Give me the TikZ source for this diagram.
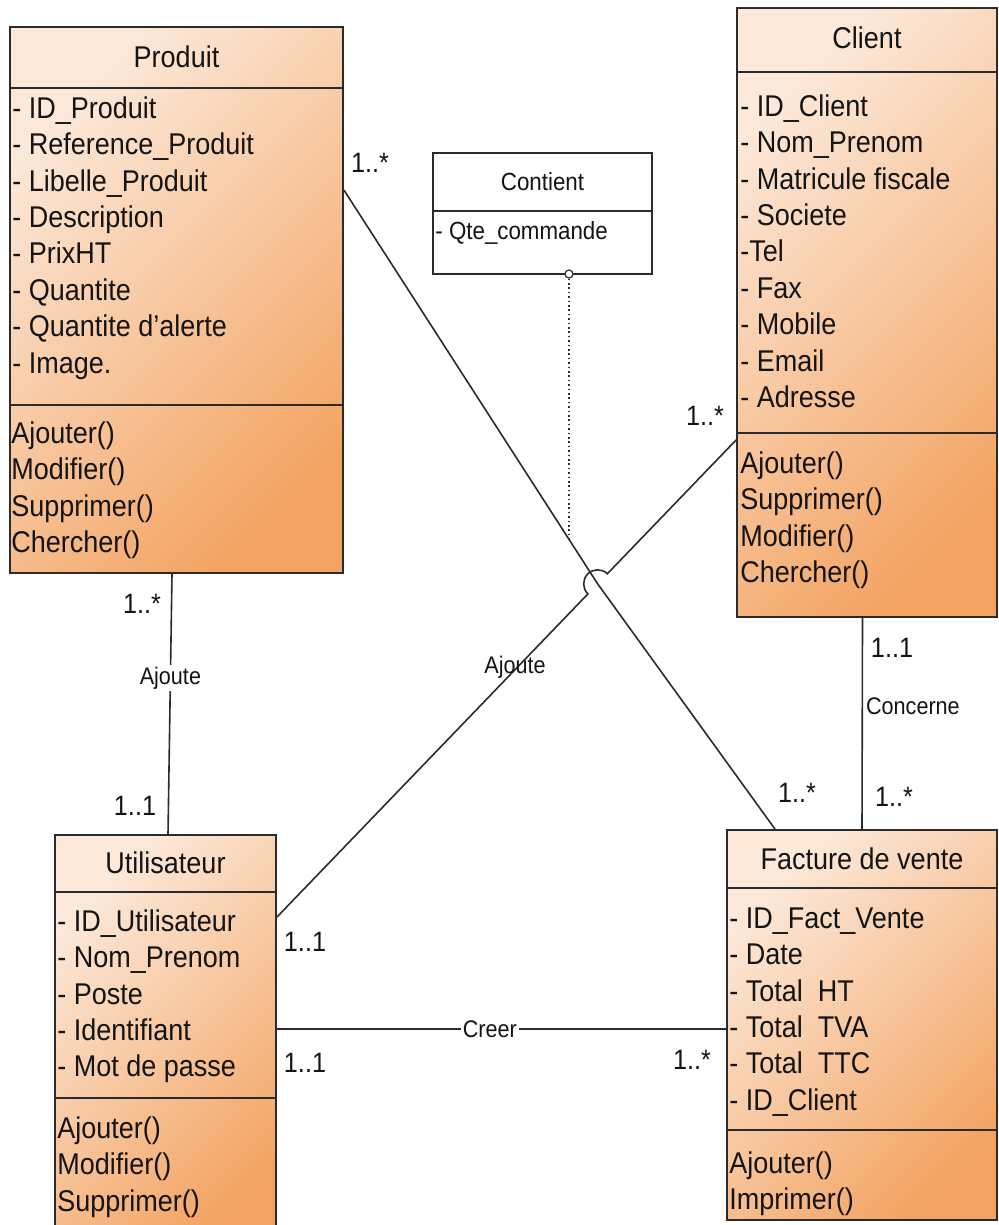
\documentclass[tikz,border=0pt]{standalone}
\usepackage{fontspec}
\setmainfont{Liberation Sans}[FakeStretch=0.9]
\usetikzlibrary{fit,calc}
\definecolor{classlight}{HTML}{FCE9DA}
\definecolor{classdark}{HTML}{F3A463}
\definecolor{linegray}{HTML}{2B2B2B}
\tikzset{
  classbox/.style={draw=linegray, line width=0.9pt, inner sep=0pt, top color=classlight, bottom color=classdark, shading angle=45},
  compline/.style={draw=linegray, line width=0.9pt},
  classtitle/.style={inner sep=0pt, font=\fontsize{15}{18}\selectfont, text=black!92},
  members/.style={anchor=north west, inner sep=0pt, align=left, font=\fontsize{15}{18.2}\selectfont, text=black!92},
  mult/.style={inner sep=0pt, font=\fontsize{14}{16}\selectfont, text=black!92},
  rolename/.style={inner sep=1pt, font=\fontsize{12}{14}\selectfont, text=black!92},
  assoc/.style={draw=linegray, line width=0.8pt},
}
\begin{document}
\begin{tikzpicture}[x=0.5pt, y=-0.5pt]
  \clip (0,0) rectangle (999,1225);

  % Classes
  \node[classbox, fit={(10,27) (343,573)}] (produit) {};
  \draw[compline] (produit.west |- 0,88) -- (produit.east |- 0,88);
  \draw[compline] (produit.west |- 0,405) -- (produit.east |- 0,405);
  \node[classtitle] (produitName) at (produit.north |- 0,57) {Produit};
  \node[members] (produitAttr) at (12,92.5) {\strut - ID\_Produit\\- Reference\_Produit\\- Libelle\_Produit\\- Description\\- PrixHT\\- Quantite\\- Quantite d'alerte\\- Image.};
  \node[members] (produitOps) at (11,417.5) {\strut Ajouter()\\Modifier()\\Supprimer()\\Chercher()};

  \node[classbox, fit={(737,8) (997,617)}] (client) {};
  \draw[compline] (client.west |- 0,72) -- (client.east |- 0,72);
  \draw[compline] (client.west |- 0,433) -- (client.east |- 0,433);
  \node[classtitle] (clientName) at (client.north |- 0,38) {Client};
  \node[members] (clientAttr) at (740,90.5) {\strut - ID\_Client\\- Nom\_Prenom\\- Matricule fiscale\\- Societe\\-Tel\\- Fax\\- Mobile\\- Email\\- Adresse};
  \node[members] (clientOps) at (740,447.5) {\strut Ajouter()\\Supprimer()\\Modifier()\\Chercher()};

  \node[classbox, fit={(55,835) (276,1250)}] (utilisateur) {};
  \draw[compline] (utilisateur.west |- 0,892) -- (utilisateur.east |- 0,892);
  \draw[compline] (utilisateur.west |- 0,1098) -- (utilisateur.east |- 0,1098);
  \node[classtitle] (utilisateurName) at (utilisateur.north |- 0,863) {Utilisateur};
  \node[members] (utilisateurAttr) at (57,905.5) {\strut - ID\_Utilisateur\\- Nom\_Prenom\\- Poste\\- Identifiant\\- Mot de passe};
  \node[members] (utilisateurOps) at (57,1112.5) {\strut Ajouter()\\Modifier()\\Supprimer()};

  \node[classbox, fit={(727,830) (997,1220)}] (facture) {};
  \draw[compline] (facture.west |- 0,888) -- (facture.east |- 0,888);
  \draw[compline] (facture.west |- 0,1130) -- (facture.east |- 0,1130);
  \node[classtitle] (factureName) at (facture.north |- 0,859) {Facture de vente};
  \node[members] (factureAttr) at (729,902.5) {\strut - ID\_Fact\_Vente\\- Date\\- Total~~HT\\- Total~~TVA\\- Total~~TTC\\- ID\_Client};
  \node[members] (factureOps) at (729,1147.5) {\strut Ajouter()\\Imprimer()};

  % Association class
  \node[draw=linegray, line width=0.9pt, fill=white, inner sep=0pt, fit={(433,153) (652,274)}] (contient) {};
  \draw[compline] (contient.west |- 0,211) -- (contient.east |- 0,211);
  \node[classtitle, font=\fontsize{12.4}{15}\selectfont] (contientName) at (contient.north |- 0,182) {Contient};
  \node[inner sep=0pt, anchor=base west, font=\fontsize{12.4}{15}\selectfont, text=black!92] (contientAttr) at (435,240) {- Qte\_commande};

  % Attach points
  \coordinate (pA) at ([yshift=55pt]produit.east);
  \coordinate (cB) at ([yshift=-63.75pt]client.west);
  \coordinate (uB) at ([yshift=-41.5pt]utilisateur.north east);
  \coordinate (hop) at ($(cB)!0.3015!(uB)$);
  \coordinate (assocPt) at ($(pA)!0.886!(hop)$);

  % Associations
  \draw[assoc] ([xshift=-2.25pt]produit.south) -- node[rolename, fill=white, pos=0.4] (ajouteA) {Ajoute} ([xshift=1.25pt]utilisateur.north);
  \draw[assoc] (pA) -- (hop) -- ([xshift=-43.5pt]facture.north);
  \draw[assoc] (cB) -- ($(hop)!7pt!(cB)$) arc[start angle=46.03, end angle=226.03, radius=7pt] -- (uB);
  \draw[assoc] ([xshift=-2.25pt]client.south) -- node[rolename, pos=0.418, anchor=west, inner sep=1.5pt] (concerne) {Concerne} (facture.north);
  \draw[assoc] ([yshift=-97.5pt]utilisateur.north east) -- node[rolename, fill=white, pos=0.474] (creer) {Creer} ([yshift=-100pt]facture.north west);
  \node[rolename] (ajouteB) at (515,667) {Ajoute};

  % Association class link
  \node[circle, draw=linegray, line width=0.6pt, fill=white, inner sep=0pt, minimum size=4pt] (assocCirc) at (569,274) {};
  \draw[linegray, line width=0.7pt, dash pattern=on 0.8pt off 1.4pt] (assocCirc.south) -- (assocCirc.south |- assocPt);

  % Multiplicities
  \node[mult] (multPF) at (370,163) {1..*};
  \node[mult] (multFP) at (797,793) {1..*};
  \node[mult] (multCF) at (892,648) {1..1};
  \node[mult] (multFC) at (894,797) {1..*};
  \node[mult] (multCU) at (705,416) {1..*};
  \node[mult] (multUC) at (305,942) {1..1};
  \node[mult] (multPU) at (142,604) {1..*};
  \node[mult] (multUP) at (135,806) {1..1};
  \node[mult] (multUF) at (305,1063) {1..1};
  \node[mult] (multFU) at (692,1060) {1..*};
\end{tikzpicture}
\end{document}
